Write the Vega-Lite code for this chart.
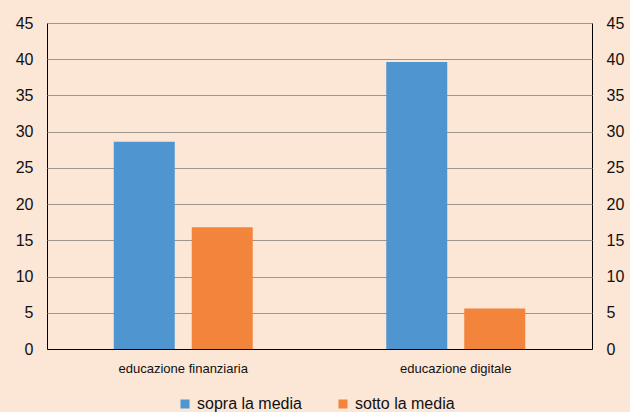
{
  "$schema": "https://vega.github.io/schema/vega-lite/v6.json",
  "autosize": {"type": "none"},
  "padding": {"left": 47, "top": 23, "right": 38, "bottom": 63},
  "width": 545,
  "height": 326,
  "background": "#fce6d6",
  "config": {
    "view": {"stroke": "#000000", "strokeWidth": 1},
    "font": "Liberation Sans"
  },
  "data": {
    "values": [
      {"group": "educazione finanziaria", "series": "sopra la media", "value": 28.6},
      {"group": "educazione finanziaria", "series": "sotto la media", "value": 16.8},
      {"group": "educazione digitale", "series": "sopra la media", "value": 39.6},
      {"group": "educazione digitale", "series": "sotto la media", "value": 5.6}
    ]
  },
  "encoding": {
    "x": {
      "field": "group", "type": "nominal", "sort": null,
      "scale": {"paddingInner": 0.49, "paddingOuter": 0.245},
      "axis": {"title": null, "labelAngle": 0, "labelFontSize": 13, "labelColor": "#111111", "ticks": false, "domainColor": "#000000", "labelPadding": 13, "grid": false}
    },
    "xOffset": {
      "field": "series", "type": "nominal",
      "scale": {"paddingInner": 0.218, "paddingOuter": 0}
    },
    "color": {
      "field": "series", "type": "nominal",
      "scale": {"domain": ["sopra la media", "sotto la media"], "range": ["#4f96d0", "#f2843c"]},
      "legend": {
        "title": null, "orient": "none", "direction": "horizontal",
        "legendX": 130, "legendY": 373,
        "symbolType": "square", "symbolSize": 81, "symbolOpacity": 1,
        "labelFontSize": 16, "labelColor": "#111111", "labelOffset": 4,
        "columnPadding": 33
      }
    }
  },
  "layer": [
    {
      "mark": {"type": "bar"},
      "encoding": {
        "y": {
          "field": "value", "type": "quantitative",
          "scale": {"domain": [0, 45], "nice": false},
          "axis": {"title": null, "values": [0,5,10,15,20,25,30,35,40,45], "labelFontSize": 16, "labelColor": "#111111", "ticks": false, "domain": false, "labelPadding": 14, "gridColor": "#a0968c", "gridOpacity": 1}
        }
      }
    },
    {
      "mark": {"type": "bar", "opacity": 0},
      "encoding": {
        "y": {
          "field": "value", "type": "quantitative",
          "scale": {"domain": [0, 45], "nice": false},
          "axis": {"title": null, "orient": "right", "values": [0,5,10,15,20,25,30,35,40,45], "labelFontSize": 16, "labelColor": "#111111", "ticks": false, "domain": false, "labelPadding": 14, "grid": false}
        }
      }
    }
  ],
  "resolve": {"axis": {"y": "independent"}}
}
